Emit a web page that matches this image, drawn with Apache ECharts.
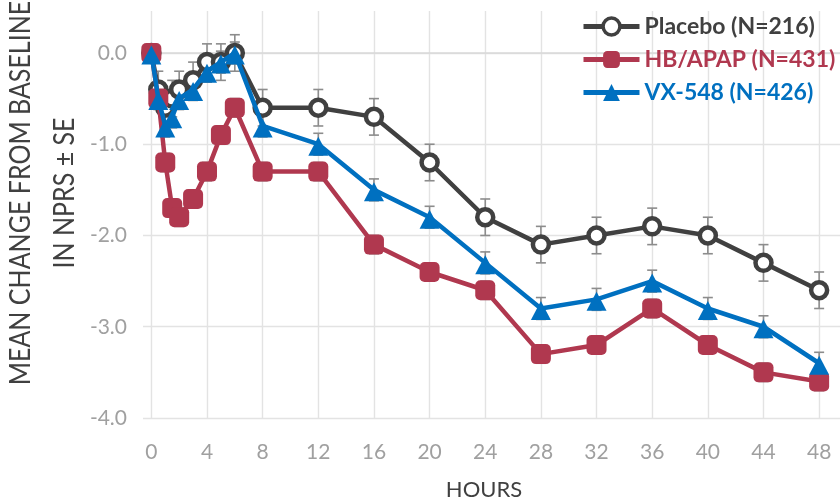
<!DOCTYPE html>
<html>
<head>
<meta charset="utf-8">
<script src="https://cdn.jsdelivr.net/npm/echarts@6/dist/echarts.min.js"></script>
<style>
  html, body { margin: 0; padding: 0; background: #ffffff; }
  #chart { width: 840px; height: 502px; }
</style>
</head>
<body>
<div id="chart"></div>
<script>
// ---- data ----
var hours = [0, 0.5, 1, 1.5, 2, 3, 4, 5, 6, 8, 12, 16, 20, 24, 28, 32, 36, 40, 44, 48];
var placebo = [0, -0.4, -0.6, -0.5, -0.4, -0.3, -0.1, -0.1, 0, -0.6, -0.6, -0.7, -1.2, -1.8, -2.1, -2.0, -1.9, -2.0, -2.3, -2.6];
var hbapap  = [0, -0.5, -1.2, -1.7, -1.8, -1.6, -1.3, -0.9, -0.6, -1.3, -1.3, -2.1, -2.4, -2.6, -3.3, -3.2, -2.8, -3.2, -3.5, -3.6];
var vx548   = [0, -0.5, -0.8, -0.7, -0.5, -0.4, -0.2, -0.1, 0, -0.8, -1.0, -1.5, -1.8, -2.3, -2.8, -2.7, -2.5, -2.8, -3.0, -3.4];
var placeboSE = [0, 0.2, 0.2, 0.2, 0.2, 0.2, 0.2, 0.2, 0.2, 0.2, 0.2, 0.2, 0.2, 0.2, 0.2, 0.2, 0.2, 0.2, 0.2, 0.2];
var hbapapSE  = [0, 0.1, 0.1, 0.1, 0.1, 0.1, 0.1, 0.1, 0.1, 0.1, 0.1, 0.1, 0.1, 0.1, 0.1, 0.1, 0.1, 0.1, 0.1, 0.1];
var vx548SE   = [0, 0.12, 0.12, 0.12, 0.12, 0.12, 0.12, 0.12, 0.12, 0.12, 0.12, 0.12, 0.12, 0.12, 0.12, 0.12, 0.12, 0.12, 0.12, 0.12];
var seriesNames = ['Placebo (N=216)', 'HB/APAP (N=431)', 'VX-548 (N=426)'];
var xTicks = [0, 4, 8, 12, 16, 20, 24, 28, 32, 36, 40, 44, 48];
var yTicks = [-4, -3, -2, -1, 0];
var xTitle = 'HOURS';
var yTitle1 = 'MEAN CHANGE FROM BASELINE';
var yTitle2 = 'IN NPRS ± SE';

// ---- styles ----
var cPlacebo = '#404040', cHB = '#B0384F', cVX = '#0070C0';
var FONT = 'Lato, "Open Sans", sans-serif';

function pairs(vals) { return hours.map(function (h, i) { return [h, vals[i]]; }); }

function errSeries(name, vals, se, z) {
  return {
    type: 'custom', name: name, silent: true, z: z,
    data: hours.map(function (h, i) { return [h, vals[i] - se[i], vals[i] + se[i]]; }),
    renderItem: function (params, api) {
      var x = api.value(0);
      var lo = api.coord([x, api.value(1)]);
      var hi = api.coord([x, api.value(2)]);
      var hw = 5;
      var st = { stroke: '#8c8c8c', lineWidth: 1.6 };
      return {
        type: 'group',
        children: [
          { type: 'line', shape: { x1: lo[0], y1: lo[1], x2: hi[0], y2: hi[1] }, style: st },
          { type: 'line', shape: { x1: lo[0] - hw, y1: lo[1], x2: lo[0] + hw, y2: lo[1] }, style: st },
          { type: 'line', shape: { x1: hi[0] - hw, y1: hi[1], x2: hi[0] + hw, y2: hi[1] }, style: st }
        ]
      };
    }
  };
}

var chart = echarts.init(document.getElementById('chart'), null, { renderer: 'canvas' });
chart.setOption({
  animation: false,
  backgroundColor: '#ffffff',
  textStyle: { fontFamily: FONT },
  grid: { left: 143, right: 0, top: 11, bottom: 84, containLabel: false },
  legend: {
    orient: 'vertical',
    left: 576, top: 10,
    itemWidth: 56, itemHeight: 21, itemGap: 10,
    lineStyle: { width: 5 },
    textStyle: { fontFamily: FONT, fontSize: 23, fontWeight: 'bold' },
    data: [
      { name: seriesNames[0], textStyle: { color: cPlacebo }, itemStyle: { borderWidth: 3.5 } },
      { name: seriesNames[1], textStyle: { color: cHB } },
      { name: seriesNames[2], textStyle: { color: cVX } }
    ]
  },
  xAxis: {
    type: 'value', min: -0.6, max: 49.5,
    axisLine: { show: true, lineStyle: { color: '#d9d9d9', width: 1.5 } },
    axisTick: { show: false, customValues: xTicks },
    axisLabel: { customValues: xTicks, color: '#a0a0a0', fontSize: 21, fontFamily: FONT, margin: 24 },
    splitLine: { show: true, lineStyle: { color: '#e3e3e3', width: 1.4 } }
  },
  yAxis: {
    type: 'value', min: -4, max: 0.46,
    axisLine: { show: false },
    axisTick: { show: false, customValues: yTicks },
    axisLabel: { customValues: yTicks, color: '#a0a0a0', fontSize: 21, fontFamily: FONT, margin: 16,
      formatter: function (v) { return v.toFixed(1); } },
    splitLine: { show: true, lineStyle: { color: '#e3e3e3', width: 1.4 } }
  },
  graphic: [
    { type: 'text', x: 21, y: 193, rotation: Math.PI / 2, scaleY: 1.15,
      style: { text: yTitle1, font: '25px ' + FONT, fill: '#404040', align: 'center', verticalAlign: 'middle' } },
    { type: 'text', x: 65, y: 193, rotation: Math.PI / 2, scaleY: 1.15,
      style: { text: yTitle2, font: '25px ' + FONT, fill: '#404040', align: 'center', verticalAlign: 'middle' } },
    { type: 'text', x: 484, y: 490,
      style: { text: xTitle, font: '22px ' + FONT, fill: '#404040', align: 'center', verticalAlign: 'middle' } }
  ],
  series: [
    errSeries('placeboSE', placebo, placeboSE, 1),
    errSeries('hbapapSE', hbapap, hbapapSE, 1),
    errSeries('vx548SE', vx548, vx548SE, 1),
    {
      type: 'line', name: seriesNames[0], data: pairs(placebo), z: 2,
      symbol: 'circle', symbolSize: 16,
      lineStyle: { color: cPlacebo, width: 4.5 },
      itemStyle: { color: '#ffffff', borderColor: cPlacebo, borderWidth: 4.5 }
    },
    {
      type: 'line', name: seriesNames[1], data: pairs(hbapap), z: 3,
      symbol: 'roundRect', symbolSize: 20,
      lineStyle: { color: cHB, width: 4.5 },
      itemStyle: { color: cHB }
    },
    {
      type: 'line', name: seriesNames[2], data: pairs(vx548), z: 4,
      symbol: 'triangle', symbolSize: [20, 19], symbolOffset: [0, 2],
      lineStyle: { color: cVX, width: 4.5 },
      itemStyle: { color: cVX }
    }
  ]
});
</script>
</body>
</html>
